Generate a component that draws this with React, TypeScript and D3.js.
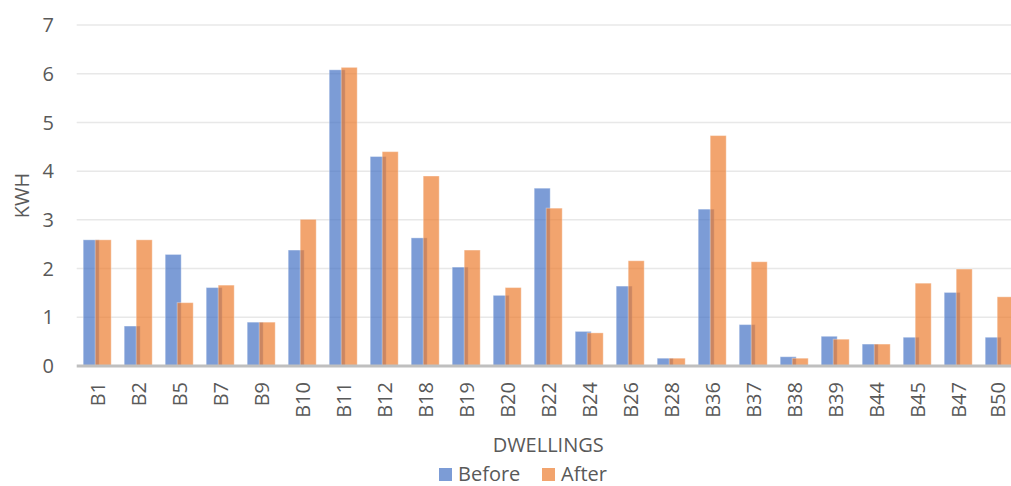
import React from "react";
import * as d3 from "d3";

// Dwelling energy use before and after the intervention (kWh)
const dwellings = [
  "B1", "B2", "B5", "B7", "B9", "B10", "B11", "B12", "B18", "B19", "B20", "B22",
  "B24", "B26", "B28", "B36", "B37", "B38", "B39", "B44", "B45", "B47", "B50",
];
const before = [
  2.59, 0.82, 2.29, 1.61, 0.9, 2.38, 6.08, 4.3, 2.63, 2.03, 1.45, 3.65,
  0.71, 1.64, 0.16, 3.22, 0.85, 0.19, 0.61, 0.45, 0.59, 1.51, 0.59,
];
const after = [
  2.59, 2.59, 1.3, 1.66, 0.9, 3.01, 6.13, 4.4, 3.9, 2.38, 1.61, 3.24,
  0.68, 2.16, 0.16, 4.73, 2.14, 0.16, 0.55, 0.45, 1.7, 1.99, 1.42,
];
const yTicks = [0, 1, 2, 3, 4, 5, 6, 7];
const seriesNames = ["Before", "After"];

const W = 1011;
const H = 486;
const plot = { left: 76.7, right: 1019.7, top: 25, bottom: 366 };
const FONT = "'Open Sans', 'DejaVu Sans', sans-serif";
const TEXT = "#595959";
const BLUE = "#4472C4";
const ORANGE = "#ED7D31";

export default function App() {
  const x = d3.scaleBand<string>().domain(dwellings).range([plot.left, plot.right]);
  const y = d3.scaleLinear().domain([0, 7]).range([plot.bottom, plot.top]);
  const barW = 16;
  const shift = 12; // offset between the two bars of a group (they overlap by 4px)

  return (
    <div style={{ position: "absolute", left: 0, top: 0 }}>
      <svg width={W} height={H} style={{ display: "block", background: "#fff" }}>
        {/* horizontal gridlines */}
        {yTicks.slice(1).map((t) => (
          <line
            key={t}
            x1={plot.left}
            x2={W}
            y1={y(t)}
            y2={y(t)}
            stroke="#e8e8e8"
            strokeWidth={1.5}
          />
        ))}
        {/* y tick labels */}
        {yTicks.map((t) => (
          <text
            key={t}
            x={54}
            y={y(t)}
            dy="0.36em"
            textAnchor="end"
            fontFamily={FONT}
            fontSize={20}
            fill={TEXT}
          >
            {t}
          </text>
        ))}
        {/* bars */}
        {dwellings.map((d, i) => {
          const c = (x(d) ?? 0) + x.bandwidth() / 2;
          const x0 = c - barW + 2;
          return (
            <g key={d}>
              <rect
                x={x0}
                y={y(before[i])}
                width={barW}
                height={y(0) - y(before[i])}
                fill={BLUE}
                fillOpacity={0.7}
                stroke="#ffffff"
                strokeOpacity={0.35}
                strokeWidth={1}
              />
              <rect
                x={x0 + shift}
                y={y(after[i])}
                width={barW}
                height={y(0) - y(after[i])}
                fill={ORANGE}
                fillOpacity={0.7}
                stroke="#ffffff"
                strokeOpacity={0.35}
                strokeWidth={1}
              />
            </g>
          );
        })}
        {/* x axis line */}
        <line
          x1={plot.left}
          x2={W}
          y1={y(0)}
          y2={y(0)}
          stroke="#bfbfbf"
          strokeWidth={3}
        />
        {/* x tick labels, rotated */}
        {dwellings.map((d) => {
          const c = (x(d) ?? 0) + x.bandwidth() / 2;
          return (
            <text
              key={d}
              transform={`translate(${Math.min(c + 1, 998)},${382}) rotate(-90)`}
              dy="0.36em"
              textAnchor="end"
              fontFamily={FONT}
              fontSize={20}
              fill={TEXT}
            >
              {d}
            </text>
          );
        })}
        {/* axis titles */}
        <text
          transform={`translate(${22},${(plot.top + plot.bottom) / 2}) rotate(-90)`}
          dy="0.36em"
          textAnchor="middle"
          fontFamily={FONT}
          fontSize={20}
          fill={TEXT}
        >
          KWH
        </text>
        <text
          x={(plot.left + plot.right) / 2}
          y={452}
          textAnchor="middle"
          fontFamily={FONT}
          fontSize={20}
          fill={TEXT}
        >
          DWELLINGS
        </text>
        {/* legend */}
        {seriesNames.map((name, i) => {
          const lx = i === 0 ? 439 : 542;
          return (
            <g key={name}>
              <rect
                x={lx}
                y={468}
                width={13}
                height={13}
                fill={i === 0 ? BLUE : ORANGE}
                fillOpacity={0.7}
              />
              <text
                x={lx + 19}
                y={481}
                fontFamily={FONT}
                fontSize={20}
                fill={TEXT}
              >
                {name}
              </text>
            </g>
          );
        })}
      </svg>
    </div>
  );
}
